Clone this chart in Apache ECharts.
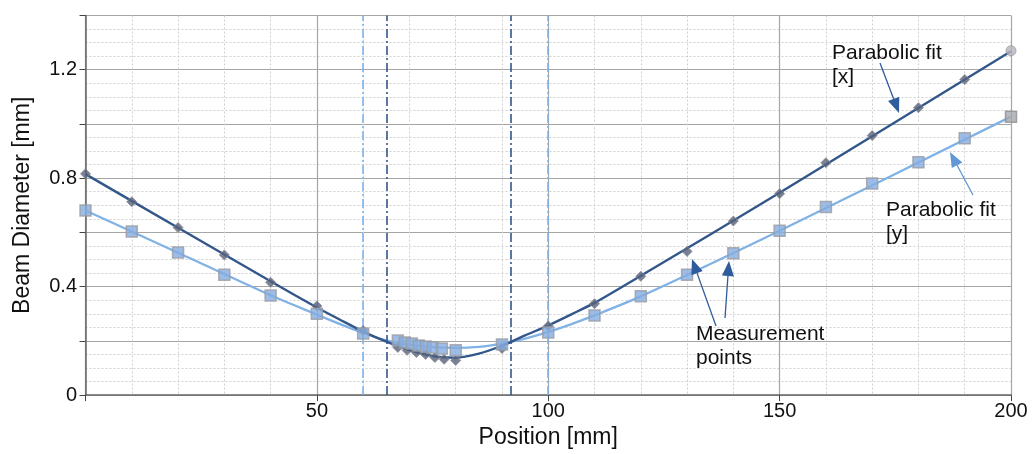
<!DOCTYPE html>
<html>
<head>
<meta charset="utf-8">
<script src="https://cdn.jsdelivr.net/npm/echarts@6/dist/echarts.min.js"></script>
<style>
html,body{margin:0;padding:0;background:#fff;}
#chart{width:1032px;height:454px;}
</style>
</head>
<body>
<div id="chart"></div>
<script>
// ---- data ----
const darkPointPos = [0,10,20,30,40,50,60,67.5,69.5,71.5,73.5,75.5,77.5,80,90,100,110,120,130,140,150,160,170,180,190,200];
const darkPointVals = [0.816,0.713,0.618,0.517,0.416,0.329,0.238,0.176,0.165,0.157,0.150,0.139,0.132,0.128,0.172,0.255,0.337,0.438,0.530,0.642,0.743,0.857,0.957,1.060,1.164,1.270];

const lightPointPos = [0,10,20,30,40,50,60,67.5,69,70.5,72,73.5,75,77,80,90,100,110,120,130,140,150,160,170,180,190,200];
const lightPointVals = [0.681,0.603,0.526,0.444,0.367,0.300,0.227,0.201,0.194,0.190,0.183,0.179,0.176,0.172,0.165,0.187,0.231,0.294,0.365,0.444,0.523,0.606,0.694,0.780,0.859,0.947,1.027];

const fitPos = [0,20,40,50,55,60,65,70,75,80,85,90,95,100,105,110,120,150,200];
const darkFitVals = [0.815,0.617,0.420,0.323,0.278,0.234,0.197,0.166,0.144,0.138,0.153,0.182,0.220,0.257,0.298,0.340,0.440,0.746,1.268];
const lightFitVals = [0.681,0.525,0.368,0.297,0.262,0.229,0.202,0.186,0.177,0.174,0.178,0.190,0.208,0.233,0.262,0.294,0.364,0.606,1.027];

const darkRefLines = [65, 92];
const lightRefLines = [60, 99.8];

const xTickLabels = ['50','100','150','200'];
const yTickLabels = ['0','0.4','0.8','1.2'];

const xTitle = 'Position [mm]';
const yTitle = 'Beam Diameter [mm]';
const noteFitX = 'Parabolic fit\n[x]';
const noteFitY = 'Parabolic fit\n[y]';
const noteMeas = 'Measurement\npoints';

// ---- build ----
const pairs = (xs, ys) => xs.map((x, i) => [x, ys[i]]);
const DARK = '#33578a';
const LIGHT = '#80b2e6';
const FONT = 'Liberation Sans, Arial, sans-serif';

const darkPts = pairs(darkPointPos, darkPointVals).map((p, i, a) =>
  i === a.length - 1 ? {value: p, symbol: 'circle', symbolSize: 10, itemStyle: {color: '#b4b4bc', borderColor: '#9a9aa0', borderWidth: 1}} : p);
const lightPts = pairs(lightPointPos, lightPointVals).map((p, i, a) =>
  i === a.length - 1 ? {value: p, itemStyle: {color: '#a9a9ae', borderColor: '#8e8e92'}} : p);

function arrow(x1, y1, x2, y2, color) {
  const dx = x2 - x1, dy = y2 - y1, L = Math.hypot(dx, dy);
  const ux = dx / L, uy = dy / L, hl = 15, hw = 6;
  const bx = x2 - ux * hl, by = y2 - uy * hl;
  return [
    {type: 'line', shape: {x1: x1, y1: y1, x2: bx, y2: by}, style: {stroke: color, lineWidth: 1.3}, z: 100},
    {type: 'polygon', shape: {points: [[x2, y2], [bx - uy * hw, by + ux * hw], [bx + uy * hw, by - ux * hw]]}, style: {fill: color}, z: 100}
  ];
}
function note(x, y, text) {
  return {type: 'text', left: x, top: y, z: 100,
    style: {text: text, font: '21px ' + FONT, fill: '#111', lineHeight: 24}};
}

const refLine = (vals, color) => ({
  silent: true, symbol: 'none', animation: false,
  label: {show: false},
  lineStyle: {color: color, width: 1.6, type: [9, 3, 2, 3]},
  data: vals.map(v => ({xAxis: v}))
});

const chart = echarts.init(document.getElementById('chart'), null, {renderer: 'canvas'});
chart.setOption({
  animation: false,
  backgroundColor: '#ffffff',
  grid: {left: 85.5, right: 21, top: 15.5, bottom: 56, containLabel: false},
  xAxis: {
    type: 'value', min: 0, max: 200, interval: 50,
    name: xTitle, nameLocation: 'middle', nameGap: 27,
    nameTextStyle: {fontSize: 23, color: '#111', fontFamily: FONT},
    axisLine: {show: true, onZero: false, lineStyle: {color: '#666', width: 1.5}},
    axisTick: {show: true, length: 6, lineStyle: {color: '#444'}},
    axisLabel: {fontSize: 20, color: '#111', fontFamily: FONT, margin: 6,
      formatter: v => xTickLabels.includes(String(v)) ? String(v) : ''},
    splitLine: {show: true, lineStyle: {color: '#a6a6a6', width: 1.2}},
    minorTick: {show: false, splitNumber: 5},
    minorSplitLine: {show: true, lineStyle: {color: '#d0d0d0', type: [2, 2], width: 1}}
  },
  yAxis: {
    type: 'value', min: 0, max: 1.4, interval: 0.2, offset: 1.5,
    name: yTitle, nameLocation: 'middle', nameGap: 50, nameRotate: 90,
    nameTextStyle: {fontSize: 23, color: '#111', fontFamily: FONT},
    axisLine: {show: true, lineStyle: {color: '#666', width: 1.5}},
    axisTick: {show: true, length: 6, lineStyle: {color: '#444'}},
    axisLabel: {fontSize: 20, color: '#111', fontFamily: FONT, margin: 7,
      formatter: v => {
        const s = String(Math.round(v * 10) / 10);
        return yTickLabels.includes(s) ? s : '';
      }},
    splitLine: {show: true, lineStyle: {color: '#a6a6a6', width: 1.2}},
    minorTick: {show: false, splitNumber: 4},
    minorSplitLine: {show: true, lineStyle: {color: '#d0d0d0', type: [2, 2], width: 1}}
  },
  series: [
    {
      name: 'fit y', type: 'line', data: pairs(fitPos, lightFitVals),
      showSymbol: false, smooth: 0.25,
      lineStyle: {color: LIGHT, width: 2.3}, z: 3,
      markLine: refLine(lightRefLines, '#7fb3ea')
    },
    {
      name: 'fit x', type: 'line', data: pairs(fitPos, darkFitVals),
      showSymbol: false, smooth: 0.25,
      lineStyle: {color: DARK, width: 2.4}, z: 4,
      markLine: refLine(darkRefLines, '#34558a')
    },
    {
      name: 'points x', type: 'scatter', data: darkPts,
      symbol: 'diamond', symbolSize: 10,
      itemStyle: {color: '#56627a', borderColor: '#8a8a92', borderWidth: 1}, z: 5
    },
    {
      name: 'points y', type: 'scatter', data: lightPts,
      symbol: 'rect', symbolSize: 11,
      itemStyle: {color: '#84ade0', borderColor: '#9a9ca4', borderWidth: 1.5}, z: 6
    }
  ],
  graphic: [
    note(832, 41, noteFitX),
    note(886, 198, noteFitY),
    note(696, 322, noteMeas),
    ...arrow(880, 63, 899, 113, '#2f5c9c'),
    ...arrow(973, 195, 950, 152, '#6097d6'),
    ...arrow(716, 326, 692, 259, '#2f5c9c'),
    ...arrow(725, 318, 729, 261, '#2f5c9c')
  ]
});
</script>
</body>
</html>
